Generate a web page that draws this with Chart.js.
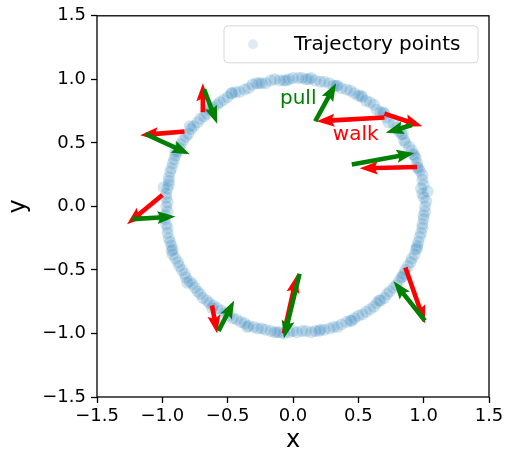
<!DOCTYPE html>
<html>
<head>
<meta charset="utf-8">
<script src="https://cdn.jsdelivr.net/npm/chart.js@4.4.0/dist/chart.umd.min.js"></script>
<style>
  html, body { margin: 0; padding: 0; background: #fff; }
  canvas { display: block; }
</style>
</head>
<body>
<canvas id="chart" width="507" height="456" style="width:507px;height:456px"></canvas>
<script>
const TICKS = [-1.5, -1.0, -0.5, 0.0, 0.5, 1.0, 1.5];

// trajectory samples
const TRAJ_X = [
  1.01, 1.00, 0.98, 0.99, 0.97, 0.95, 0.92, 0.89, 0.85, 0.81, 0.77, 0.71, 0.67, 0.62, 0.56, 0.50, 0.44, 0.37, 0.31, 0.24, 0.17, 0.10, 0.04,
  -0.03, -0.10, -0.17, -0.24, -0.31, -0.37, -0.44, -0.50, -0.56, -0.61, -0.66, -0.71, -0.76, -0.80, -0.84, -0.87, -0.90, -0.92, -0.94, -0.95, -0.96, -0.97,
  -0.97, -0.98, -0.97, -0.96, -0.94, -0.92, -0.90, -0.87, -0.83, -0.79, -0.75, -0.71, -0.66, -0.61, -0.55, -0.49, -0.43, -0.37, -0.30, -0.24, -0.17, -0.10, -0.03,
  0.03, 0.10, 0.17, 0.24, 0.31, 0.37, 0.44, 0.50, 0.56, 0.62, 0.67, 0.72, 0.77, 0.81, 0.85, 0.88, 0.91, 0.94, 0.96, 0.98, 0.99, 1.00,
  1.02, 0.99, 1.00, 0.99, 0.95, 0.94, 0.91, 0.86, 0.84, 0.80, 0.73, 0.70, 0.64, 0.59, 0.53, 0.47, 0.41, 0.34, 0.28, 0.21, 0.14, 0.07,
  0.00, -0.07, -0.14, -0.21, -0.28, -0.34, -0.41, -0.47, -0.53, -0.58, -0.64, -0.68, -0.73, -0.78, -0.82, -0.86, -0.88, -0.91, -0.93, -0.95, -0.95, -0.97, -0.96,
  -0.96, -0.98, -0.96, -0.95, -0.93, -0.92, -0.88, -0.85, -0.82, -0.77, -0.73, -0.69, -0.64, -0.58, -0.52, -0.46, -0.40, -0.34, -0.27, -0.21, -0.14, -0.07, 0.00,
  0.07, 0.14, 0.21, 0.28, 0.34, 0.41, 0.47, 0.53, 0.59, 0.64, 0.70, 0.74, 0.79, 0.83, 0.86, 0.90, 0.93, 0.95, 0.97, 0.99, 1.00, 1.01,
  1.03, 0.96, 0.93, 0.83, 0.69, 0.52, 0.33, 0.12, -0.05, -0.26, -0.47, -0.63, -0.79, -0.90, -0.99, -1.00, -0.93, -0.81, -0.62, -0.35, -0.12, 0.20, 0.45, 0.66, 0.84, 0.95
];
const TRAJ_Y = [
  0.00, 0.07, 0.14, 0.21, 0.28, 0.34, 0.41, 0.47, 0.52, 0.59, 0.65, 0.70, 0.74, 0.80, 0.83, 0.87, 0.91, 0.93, 0.95, 0.98, 0.99, 1.00, 1.01,
  1.00, 0.99, 0.99, 0.97, 0.96, 0.92, 0.90, 0.86, 0.82, 0.78, 0.73, 0.69, 0.63, 0.57, 0.52, 0.46, 0.40, 0.34, 0.27, 0.20, 0.14, 0.07,
  0.00, -0.07, -0.14, -0.21, -0.28, -0.34, -0.41, -0.47, -0.53, -0.59, -0.64, -0.69, -0.74, -0.78, -0.82, -0.86, -0.89, -0.92, -0.95, -0.96, -0.98, -0.99, -0.99,
  -0.99, -0.98, -0.98, -0.97, -0.95, -0.93, -0.90, -0.86, -0.83, -0.79, -0.74, -0.69, -0.64, -0.59, -0.53, -0.47, -0.41, -0.34, -0.28, -0.21, -0.14, -0.07,
  0.04, 0.10, 0.17, 0.25, 0.31, 0.38, 0.44, 0.50, 0.57, 0.62, 0.66, 0.73, 0.76, 0.82, 0.86, 0.89, 0.92, 0.95, 0.97, 0.98, 1.01, 1.01,
  1.01, 0.99, 1.00, 0.97, 0.97, 0.93, 0.90, 0.89, 0.84, 0.80, 0.76, 0.71, 0.66, 0.61, 0.55, 0.49, 0.43, 0.37, 0.30, 0.23, 0.17, 0.10, 0.03,
  -0.04, -0.10, -0.17, -0.25, -0.31, -0.38, -0.44, -0.50, -0.56, -0.61, -0.67, -0.72, -0.76, -0.80, -0.84, -0.88, -0.91, -0.94, -0.96, -0.97, -0.99, -1.00, -0.98,
  -0.98, -0.99, -0.97, -0.96, -0.95, -0.91, -0.88, -0.85, -0.81, -0.76, -0.72, -0.67, -0.62, -0.56, -0.50, -0.44, -0.38, -0.31, -0.24, -0.17, -0.10, -0.04,
  0.12, 0.30, 0.40, 0.57, 0.74, 0.87, 0.95, 1.00, 0.99, 0.97, 0.89, 0.77, 0.63, 0.43, 0.15, -0.09, -0.35, -0.60, -0.80, -0.95, -0.99, -0.98, -0.90, -0.74, -0.55, -0.33
];

// [tailX, tailY, tipX, tipY]
const WALK_ARROWS = [
  [-0.69, 0.74, -0.69, 0.97],
  [-0.83, 0.59, -1.17, 0.56],
  [-1.00, 0.09, -1.27, -0.14],
  [0.70, 0.70, 0.18, 0.67],
  [0.70, 0.73, 0.99, 0.63],
  [0.95, 0.31, 0.51, 0.30],
  [-0.07, -1.00, 0.03, -0.54],
  [0.86, -0.48, 1.01, -0.92],
  [-0.62, -0.78, -0.58, -1.00]
];
const PULL_ARROWS = [
  [-0.68, 0.92, -0.58, 0.65],
  [-1.13, 0.57, -0.79, 0.41],
  [-1.23, -0.10, -0.90, -0.08],
  [0.17, 0.67, 0.33, 0.97],
  [0.91, 0.64, 0.71, 0.58],
  [0.45, 0.33, 0.93, 0.42],
  [0.05, -0.53, -0.07, -1.04],
  [1.01, -0.90, 0.77, -0.59],
  [-0.57, -0.98, -0.45, -0.74]
];
// [text, x, y]
const NOTES = [['pull', 0.04, 0.85], ['walk', 0.48, 0.56]];

const COLORS = {
  point: 'rgba(31,119,180,0.2)',
  legendPoint: 'rgba(31,119,180,0.15)',
  walk: '#ff0000',
  pull: '#008000',
  axis: '#000000'
};
const FONT = "'DejaVu Sans', sans-serif";

function fmtTick(v) {
  return (v < 0 ? '\u2212' : '') + Math.abs(v).toFixed(1);
}

function drawArrow(ctx, x0, y0, x1, y1, color) {
  const dx = x1 - x0, dy = y1 - y0;
  const L = Math.hypot(dx, dy);
  const ux = dx / L, uy = dy / L, nx = -uy, ny = ux;
  const sw = 2.3, hw = 6.5, hl = 18, ha = 16;
  const pts = [[0, -sw], [L - ha, -sw], [L - hl, -hw], [L, 0], [L - hl, hw], [L - ha, sw], [0, sw]];
  ctx.beginPath();
  pts.forEach(([a, c], i) => {
    const px = x0 + a * ux + c * nx, py = y0 + a * uy + c * ny;
    if (i === 0) ctx.moveTo(px, py); else ctx.lineTo(px, py);
  });
  ctx.closePath();
  ctx.fillStyle = color;
  ctx.fill();
}

const overlay = {
  id: 'overlay',
  afterDatasetsDraw(chart) {
    const { ctx, scales: { x, y } } = chart;
    ctx.save();
    WALK_ARROWS.forEach(a => drawArrow(ctx, x.getPixelForValue(a[0]), y.getPixelForValue(a[1]), x.getPixelForValue(a[2]), y.getPixelForValue(a[3]), COLORS.walk));
    PULL_ARROWS.forEach(a => drawArrow(ctx, x.getPixelForValue(a[0]), y.getPixelForValue(a[1]), x.getPixelForValue(a[2]), y.getPixelForValue(a[3]), COLORS.pull));
    ctx.font = `20px ${FONT}`;
    ctx.textAlign = 'center';
    ctx.textBaseline = 'middle';
    NOTES.forEach(([t, vx, vy]) => {
      ctx.fillStyle = t === 'pull' ? COLORS.pull : COLORS.walk;
      ctx.fillText(t, x.getPixelForValue(vx), y.getPixelForValue(vy));
    });
    ctx.restore();
  },
  afterDraw(chart) {
    const { ctx, chartArea: a } = chart;
    ctx.save();
    ctx.strokeStyle = COLORS.axis;
    ctx.lineWidth = 1.3;
    ctx.strokeRect(a.left, a.top, a.right - a.left, a.bottom - a.top);

    // legend box, top right inside the axes
    const bx = a.right - 265, by = a.top + 10, bw = 254, bh = 37;
    ctx.beginPath();
    ctx.roundRect(bx, by, bw, bh, 4);
    ctx.fillStyle = 'rgba(255,255,255,0.8)';
    ctx.fill();
    ctx.strokeStyle = '#d6d6d6';
    ctx.lineWidth = 1;
    ctx.stroke();
    ctx.beginPath();
    ctx.arc(bx + 29, by + 18.5, 5, 0, Math.PI * 2);
    ctx.fillStyle = COLORS.legendPoint;
    ctx.fill();
    ctx.fillStyle = '#000';
    ctx.font = `20px ${FONT}`;
    ctx.textAlign = 'left';
    ctx.textBaseline = 'middle';
    ctx.fillText(chart.data.datasets[0].label, bx + 70, by + 19);
    ctx.restore();
  }
};

function axisOpts(title, isX) {
  return {
    type: 'linear',
    min: -1.5,
    max: 1.5,
    afterBuildTicks: s => { s.ticks = TICKS.map(v => ({ value: v })); },
    afterFit: s => { if (isX) s.height = 59; else s.width = 97; },
    grid: { drawOnChartArea: false, drawTicks: true, tickLength: 6, tickColor: COLORS.axis, tickWidth: 1.3 },
    border: { display: false },
    ticks: { color: '#000', font: { family: FONT, size: 18 }, padding: isX ? 3 : 5, callback: v => fmtTick(v), autoSkip: false, maxRotation: 0 },
    title: { display: true, text: title, color: '#000', font: { family: FONT, size: 24 }, padding: isX ? { top: 0, bottom: 1 } : { top: 4, bottom: 0 } }
  };
}

new Chart(document.getElementById('chart'), {
  type: 'scatter',
  data: {
    datasets: [{
      label: 'Trajectory points',
      data: TRAJ_X.map((v, i) => ({ x: v, y: TRAJ_Y[i] })),
      backgroundColor: COLORS.point,
      borderWidth: 0,
      pointRadius: 6
    }]
  },
  options: {
    responsive: false,
    animation: false,
    layout: { padding: { top: 15, right: 18, left: 0, bottom: 0 } },
    plugins: { legend: { display: false }, tooltip: { enabled: false } },
    scales: { x: axisOpts('x', true), y: axisOpts('y', false) }
  },
  plugins: [overlay]
});
</script>
</body>
</html>
